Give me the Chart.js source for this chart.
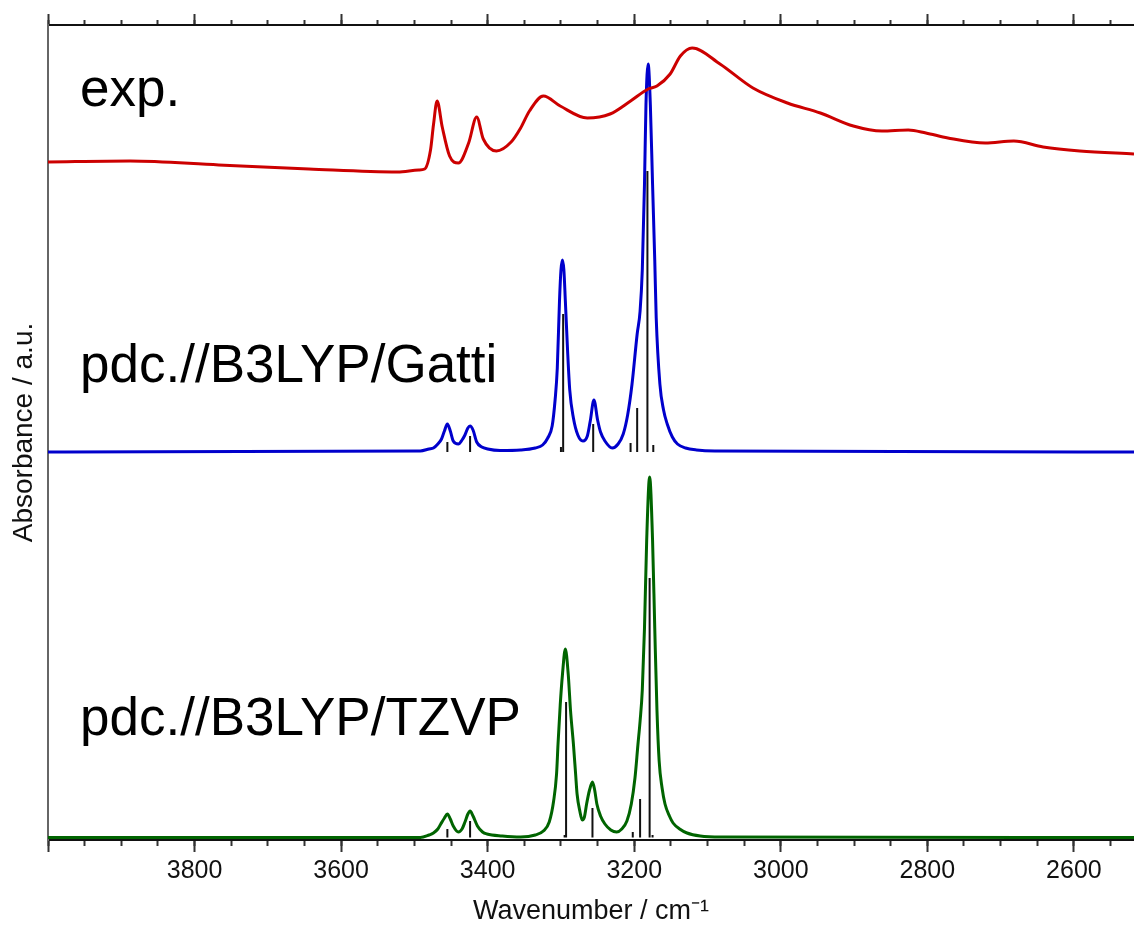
<!DOCTYPE html>
<html>
<head>
<meta charset="utf-8">
<script src="https://cdn.jsdelivr.net/npm/chart.js@4/dist/chart.umd.min.js"></script>
<style>
  body { margin: 0; background: #fff; }
  #wrap { width: 1134px; height: 929px; }
</style>
</head>
<body>
<div id="wrap"><canvas id="chart" width="1134" height="929"></canvas></div>
<script>
// values: wavenumber in cm-1, absorbance in arbitrary (offset) units
const expWn = [4000, 3888, 3767, 3644, 3523, 3494, 3486, 3478, 3474, 3469, 3462, 3452, 3440, 3426, 3415, 3406, 3388, 3368, 3355, 3343, 3324, 3301, 3264, 3233, 3205, 3181, 3169, 3151, 3137, 3121, 3083, 3038, 2991, 2946, 2901, 2862, 2826, 2802, 2772, 2721, 2682, 2642, 2592, 2518];
const expAbs = [678, 679, 675, 671, 668, 670, 671, 690, 715, 739, 713, 684, 677, 697, 723, 701, 689, 698, 712, 729, 744, 734, 722, 726, 739, 751, 754, 766, 784, 792, 776, 752, 737, 727, 714, 709, 710, 707, 702, 697, 699, 693, 689, 686];

const gattiWn = [4000, 3492, 3480, 3474, 3468, 3463, 3459, 3455, 3451, 3447, 3440, 3435, 3431, 3427, 3424, 3420, 3415, 3408, 3400, 3383, 3355, 3335, 3325, 3318, 3312, 3308, 3305, 3302, 3300, 3298, 3296, 3294, 3291, 3288, 3283, 3277, 3270, 3264, 3260, 3255, 3250, 3246, 3240, 3230, 3222, 3215, 3209, 3203, 3196, 3192, 3189, 3186, 3184, 3181, 3178, 3175, 3172, 3170, 3165, 3160, 3155, 3148, 3141, 3130, 3115, 3090, 2518];
const gattiAbs = [388, 389, 391, 392, 396, 401, 409, 416, 409, 399, 396, 400, 405, 412, 414, 410, 398, 393, 391, 389.5, 390, 392, 395, 402, 414, 440, 472, 539, 570, 580, 570, 539, 490, 450, 422, 405, 399, 404, 419, 440, 420, 408, 399, 392, 396, 406, 425, 456, 506, 529, 570, 656, 735, 776, 735, 656, 580, 522, 456, 430, 416, 403, 396, 392, 390, 389, 388];

const tzvpWn = [4000, 3492, 3480, 3474, 3468, 3464, 3459, 3455, 3451, 3447, 3440, 3435, 3431, 3427, 3424, 3420, 3414, 3407, 3401, 3380, 3355, 3335, 3324, 3316, 3310, 3306, 3304, 3301, 3298, 3294, 3290, 3287, 3283, 3280, 3278, 3274, 3271, 3268, 3265, 3261, 3257, 3254, 3251, 3246, 3240, 3232, 3224, 3217, 3210, 3204, 3199, 3195, 3192, 3189, 3186, 3183, 3179, 3175, 3172, 3169, 3166, 3162, 3158, 3152, 3147, 3138, 3128, 3110, 3080, 2518];
const tzvpAbs = [2.5, 2.5, 5, 7, 11, 16, 22, 26, 21, 14, 8, 11, 18, 26, 29, 24, 14, 8, 6, 4, 3, 5, 9, 18, 39, 66, 96, 135, 165, 191, 165, 130, 96, 66, 46, 28, 20, 23, 36, 50, 58, 50, 36, 24, 16, 10, 8, 11, 19, 36, 62, 95, 119, 150, 212, 300, 363, 300, 212, 130, 79, 52, 36, 24, 17, 11, 7, 4, 3, 2.5];

// calculated line positions (stick spectra)
const gattiBase = 388;
const gattiStickWn = [3455, 3424, 3300, 3297, 3256, 3205, 3196, 3182, 3174];
const gattiStickTop = [398, 404, 393, 526, 416, 397, 432, 669, 395];
const tzvpBase = 2.5;
const tzvpStickWn = [3455, 3424, 3295, 3293, 3257, 3202, 3192, 3179, 3175];
const tzvpStickTop = [11, 19, 5, 138, 32, 8, 41, 262, 5];

const xLow = 2518, xHigh = 4000;
const yLow = 0, yHigh = 815;

const FONT = "'Liberation Sans', Arial, sans-serif";
Chart.defaults.font.family = FONT;
Chart.defaults.color = "#111";

function toPoints(xs, ys) {
  return xs.map((x, i) => ({ x: x, y: ys[i] }));
}

/* each stick is a vertical segment, broken by a null point */
function stickPoints(xs, tops, base) {
  const pts = [];
  xs.forEach((x, i) => {
    pts.push({ x: x, y: base });
    pts.push({ x: x, y: tops[i] });
    pts.push({ x: x, y: null });
  });
  return pts;
}

function curve(data, color) {
  return {
    data: data,
    borderColor: color,
    borderWidth: 3,
    pointRadius: 0,
    fill: false,
    cubicInterpolationMode: "monotone",
    order: 1
  };
}

function sticks(data) {
  return {
    data: data,
    borderColor: "#111",
    borderWidth: 2,
    pointRadius: 0,
    fill: false,
    tension: 0,
    spanGaps: false,
    borderCapStyle: "butt",
    order: 0
  };
}

/* spectrum names */
const namePlugin = {
  id: "names",
  afterDatasetsDraw(chart) {
    const ctx = chart.ctx;
    ctx.save();
    ctx.fillStyle = "#000";
    ctx.font = "53px " + FONT;
    ctx.textBaseline = "alphabetic";
    ctx.fillText("exp.", 80, 106);
    ctx.fillText("pdc.//B3LYP/Gatti", 80, 382);
    ctx.fillText("pdc.//B3LYP/TZVP", 80, 735);
    ctx.restore();
  }
};

// tick-only axis (no grid inside the plot)
function markAxis(position, step, len, weight, height, border) {
  return {
    type: "linear",
    position: position,
    reverse: true,
    min: xLow,
    max: xHigh,
    weight: weight,
    ticks: { display: false, stepSize: step, includeBounds: false, autoSkip: false },
    grid: { display: true, drawOnChartArea: false, drawTicks: true, tickLength: len, tickColor: "#333", tickWidth: 2 },
    border: { display: border, color: "#111", width: 2 },
    afterFit: s => { s.height = height; }
  };
}

new Chart(document.getElementById("chart"), {
  type: "line",
  data: {
    datasets: [
      sticks(stickPoints(gattiStickWn, gattiStickTop, gattiBase)),
      sticks(stickPoints(tzvpStickWn, tzvpStickTop, tzvpBase)),
      curve(toPoints(expWn, expAbs), "#cc0000"),
      curve(toPoints(gattiWn, gattiAbs), "#0000cc"),
      curve(toPoints(tzvpWn, tzvpAbs), "#006400")
    ]
  },
  options: {
    responsive: false,
    animation: false,
    devicePixelRatio: 1,
    layout: { padding: 0 },
    plugins: { legend: { display: false }, tooltip: { enabled: false } },
    scales: {
      x: {
        type: "linear",
        position: "bottom",
        reverse: true,
        min: xLow,
        max: xHigh,
        weight: 1,
        ticks: {
          stepSize: 200,
          includeBounds: false,
          autoSkip: false,
          maxRotation: 0,
          padding: 4,
          color: "#111",
          font: { size: 25 },
          callback: v => (v === 4000 ? "" : v)
        },
        grid: { display: true, drawOnChartArea: false, drawTicks: true, tickLength: 12, tickColor: "#333", tickWidth: 2 },
        border: { display: true, color: "#111", width: 2 },
        title: {
          display: true,
          text: "Wavenumber / cm\u207B\u00B9",
          color: "#111",
          font: { size: 27 },
          padding: { top: 0, bottom: 1 }
        },
        afterFit: s => { s.height = 89; }
      },
      xMinor: markAxis("bottom", 50, 6, 0, 0, false),
      xTop: markAxis("top", 200, 11, 1, 25, true),
      xTopMinor: markAxis("top", 50, 5, 0, 0, false),
      y: {
        type: "linear",
        position: "left",
        min: yLow,
        max: yHigh,
        ticks: { display: false },
        grid: { display: false },
        border: { display: true, color: "#666", width: 2 },
        title: {
          display: true,
          text: "Absorbance / a.u.",
          color: "#111",
          font: { size: 28 },
          padding: { top: 7, bottom: 0 }
        },
        afterFit: s => { s.width = 48; }
      }
    }
  },
  plugins: [namePlugin]
});
</script>
</body>
</html>
